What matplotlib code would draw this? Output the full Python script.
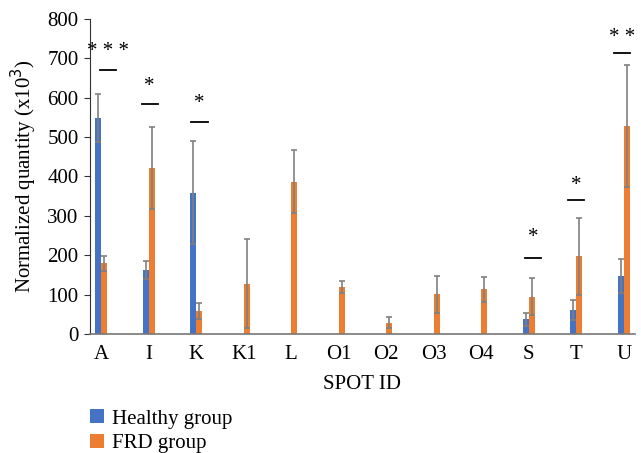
import numpy as np
import matplotlib
matplotlib.use("Agg")
import matplotlib.pyplot as plt

spots = ["A", "I", "K", "K1", "L", "O1", "O2", "O3", "O4", "S", "T", "U"]
healthy = [549, 162, 359, 0, 0, 0, 0, 0, 0, 37, 61, 148]
healthy_err = [61, 23, 131, 0, 0, 0, 0, 0, 0, 17, 26, 43]
frd = [179, 422, 58, 127, 386, 119, 28, 101, 113, 94, 197, 527]
frd_err = [20, 104, 20, 113, 80, 16, 14, 47, 32, 47, 98, 155]

# significance marks: spot index, line height, star text, star height, x offset
sig_idx = [0, 1, 2, 9, 10, 11]
sig_line = [670, 583, 539, 193, 340, 714]
sig_text = ["* * *", "*", "*", "*", "*", "* *"]
sig_star = [718, 628, 585, 244, 377, 752]
sig_off = [0.14, 0.02, 0.07, 0.09, 0.0, -0.03]

plt.rcParams["font.family"] = ["Liberation Serif", "DejaVu Serif"]

fig = plt.figure(figsize=(6.41, 4.53), dpi=100)
ax = fig.add_axes([0.140, 0.263, 0.851, 0.695])

x = np.arange(len(spots))
w = 0.125
err_kw = dict(ecolor="#808080", elinewidth=1.2, capsize=2.2, capthick=1.2)
b1 = ax.bar(x - w / 2, healthy, w, color="#4472C4", label="Healthy group")
has_h = [i for i, v in enumerate(healthy) if v > 0]
ax.errorbar(x[has_h] - w / 2, [healthy[i] for i in has_h],
            yerr=[healthy_err[i] for i in has_h], fmt="none", **err_kw)
b2 = ax.bar(x + w / 2, frd, w, color="#ED7D31", label="FRD group")
ax.errorbar(x + w / 2, frd, yerr=frd_err, fmt="none", **err_kw)

for i, ly, t, sy, off in zip(sig_idx, sig_line, sig_text, sig_star, sig_off):
    cx = i + off
    ax.plot([cx - 0.17, cx + 0.17], [ly, ly], color="black", lw=1.3)
    ax.text(cx, sy, t, ha="center", va="center", fontsize=15)

ax.set_xlim(-0.24, 11.24)
ax.set_ylim(0, 800)
ax.set_yticks(range(0, 801, 100))
ax.set_xticks(x)
ax.set_xticklabels(spots)
ax.tick_params(axis="x", length=0, labelsize=15, pad=8)
ax.tick_params(axis="y", length=4, color="#333333", labelsize=15, pad=4)
for s in ["top", "right"]:
    ax.spines[s].set_visible(False)
ax.spines["left"].set_color("#333333")
ax.spines["bottom"].set_color("#777777")
ax.spines["bottom"].set_linewidth(1.2)
ax.set_xlabel("SPOT ID", fontsize=15, labelpad=8)
ax.set_ylabel("Normalized quantity (x10$^3$)", fontsize=15, labelpad=6)

fig.legend(handles=[b1, b2], loc="upper left", bbox_to_anchor=(0.128, 0.115),
           frameon=False, fontsize=15, handlelength=0.65, handleheight=0.65,
           handletextpad=0.4, labelspacing=0.25, borderaxespad=0)

fig.savefig("out.png", dpi=100)
